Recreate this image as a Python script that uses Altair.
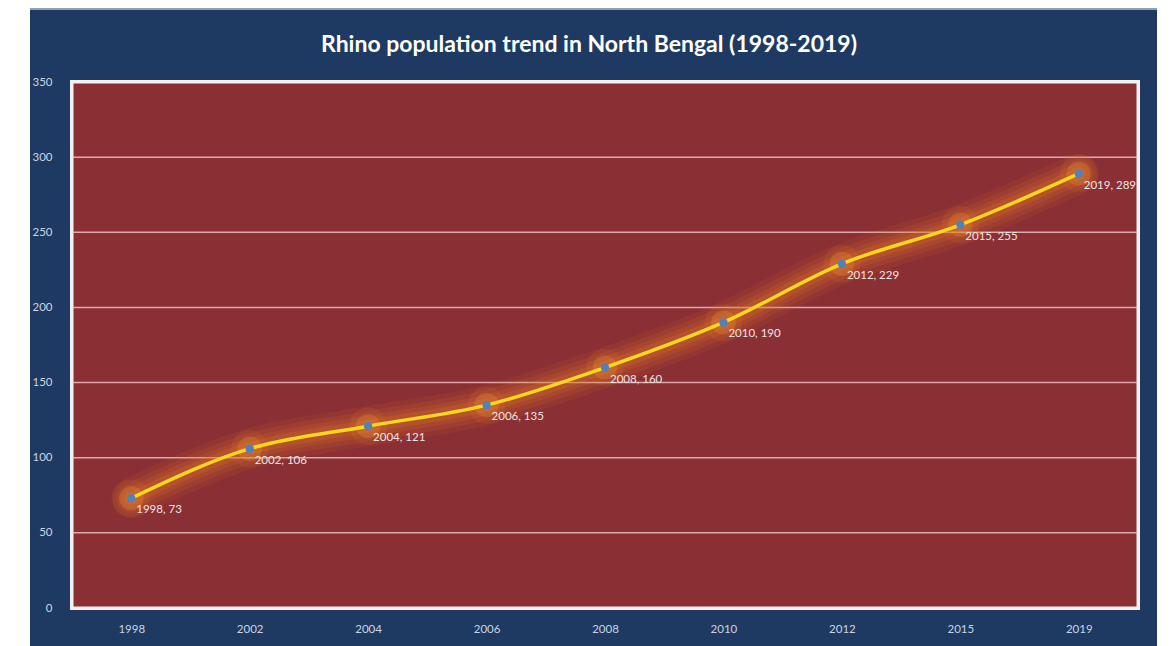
import altair as alt
import pandas as pd

years = ["1998", "2002", "2004", "2006", "2008", "2010", "2012", "2015", "2019"]
population = [73, 106, 121, 135, 160, 190, 229, 255, 289]
grid_values = [50, 100, 150, 200, 250, 300]
title_text = ["Rhino population trend in North Bengal (1998-2019)"]

df = pd.DataFrame({"year": years, "pop": population})
df["label"] = df["year"] + ", " + df["pop"].astype(str)
grid_df = pd.DataFrame({"v": grid_values})
title_df = pd.DataFrame({"t": title_text})

W, H = 1066, 526
NAVY = "#1f3a62"
RED = "#8a2f34"

xenc = alt.X("year:O", sort=years, title=None,
             scale=alt.Scale(type="point", padding=0.5),
             axis=alt.Axis(labelAngle=0, domain=False, ticks=False, grid=False,
                           labelColor="#c9d3e3", labelFontSize=11.5, labelFont="Lato",
                           labelPadding=15, zindex=1))
yenc = alt.Y("pop:Q", title=None,
             scale=alt.Scale(domain=[0, 350], nice=False),
             axis=alt.Axis(values=[0, 50, 100, 150, 200, 250, 300, 350], domain=False,
                           ticks=False, grid=False, labelColor="#c9d3e3",
                           labelFontSize=11.5, labelFont="Lato", labelPadding=20, zindex=1))

navy = alt.Chart(df).mark_rect(color=NAVY).encode(
    x=alt.value(-42), x2=alt.value(1085), y=alt.value(-73), y2=alt.value(564))
top_line = alt.Chart(df).mark_rule(color="#8fa0b8", strokeWidth=1.5).encode(
    x=alt.value(-42), x2=alt.value(1085), y=alt.value(-73))
plotbg = alt.Chart(df).mark_rect(fill=RED, stroke="#f2f2f2", strokeWidth=3).encode(
    x=alt.value(0), x2=alt.value(W), y=alt.value(0), y2=alt.value(H))
grid = alt.Chart(grid_df).mark_rule(color="#f4d6d6", strokeWidth=1.5, opacity=0.75).encode(
    y=alt.Y("v:Q", scale=alt.Scale(domain=[0, 350], nice=False)))
title = alt.Chart(title_df).mark_text(color="white", fontSize=23, font="Lato",
                                      fontWeight="bold", align="center",
                                      baseline="middle").encode(
    x=alt.value(517), y=alt.value(-37), text="t:N")

base = alt.Chart(df).encode(x=xenc, y=yenc)
glows = []
for w, op in [(40, 0.10), (30, 0.12), (21, 0.16), (13, 0.22)]:
    glows.append(base.mark_line(color="#e8782a", strokeWidth=w, opacity=op,
                                interpolate="monotone", strokeCap="round"))
glowpt1 = base.mark_circle(color="#e8782a", size=1400, opacity=0.14)
glowpt2 = base.mark_circle(color="#f29a35", size=600, opacity=0.25)
line = base.mark_line(color="#f7d81c", strokeWidth=3.5, interpolate="monotone",
                      strokeCap="round")
pts = base.mark_circle(color="#4f81bd", size=70, opacity=1)
labels = base.mark_text(align="left", baseline="middle", dx=5, dy=12,
                        color="#f1e4e4", fontSize=11.5, font="Lato").encode(text="label:N")

chart = alt.layer(navy, top_line, plotbg, grid, *glows, glowpt1, glowpt2, line, pts,
                  labels, title).properties(
    width=W, height=H,
    padding={"left": 72, "top": 82, "right": 32, "bottom": 38},
    autosize=alt.AutoSizeParams(type="none"),
    background="white",
).configure_view(strokeWidth=0)

chart.save("out.html", embed_options={"renderer": "svg", "actions": False})
